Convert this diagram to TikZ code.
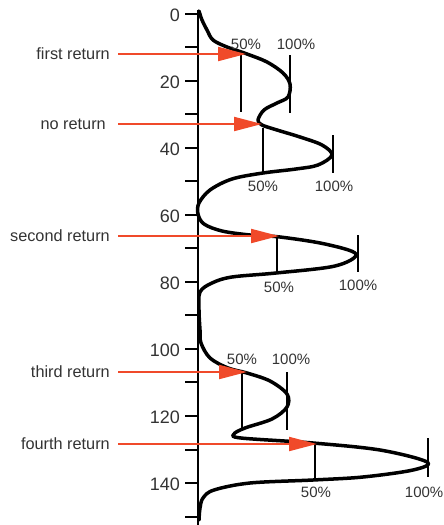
\documentclass[tikz,border=0pt]{standalone}
\usepackage{fontspec}
\setmainfont{Liberation Sans}
\usetikzlibrary{arrows.meta}
\definecolor{arrred}{HTML}{F04A2A}
\definecolor{txtgray}{HTML}{333333}
\tikzset{
  axisnum/.style={anchor=east, font=\fontsize{18}{20}\selectfont, text=txtgray, inner sep=0pt},
  retlabel/.style={anchor=east, font=\fontsize{16.3}{18}\selectfont, text=txtgray, inner sep=0pt},
  pct/.style={font=\fontsize{15}{17}\selectfont, text=txtgray, inner sep=0pt},
  retarrow/.style={draw=arrred, line width=2pt, -{Triangle[length=28pt,width=14pt]}},
  markline/.style={draw=black, line width=1.5pt},
  curve/.style={draw=black, line width=3.5pt, line cap=round, line join=round},
}
\begin{document}
\begin{tikzpicture}[x=1pt,y=-1pt]
\useasboundingbox (0,0) rectangle (444,525);
% axis
\draw[line width=2.5pt] (198,10) -- (198,525);
\foreach \v in {0,10,...,150}{
  \draw[line width=2pt] (185,{13.5+3.354*\v}) -- (198,{13.5+3.354*\v});
}
\foreach \v in {0,20,...,140}{
  \node[axisnum] (ax\v) at (180,{15+3.354*\v}) {\v};
}
% curve
\draw[curve] plot[smooth, tension=0.55] coordinates {
 (199,11) (202,20) (207,30) (213,40) (227,47) (247,54) (267,62) (283,73) (290,84)
 (288,97) (277,103) (264,110) (258,120) (262,125) (277,130) (300,137) (322,145) (332,155)
 (318,165) (296,169) (263,173) (232,179) (210,190) (199,203) (198,214) (204,224)
 (222,231) (250,235) (280,237) (325,244) (356,254) (335,266) (276,273) (232,277)
 (212,283) (200,292) (199,310) (200,330) (201,343) (210,358) (228,368) (247,373)
 (270,381) (287,394) (287,407) (272,419) (245,428) (234,434) (241,438) (313,443)
 (380,450) (427,462) (413,470) (363,477) (313,480) (250,483) (214,490) (203,498)
 (200,508) (199,520)
};
% 50% / 100% marks
\draw[markline] (241,55) -- (241,112);
\draw[markline] (290,55) -- (290,113);
\draw[markline] (263,128) -- (263,172);
\draw[markline] (333,135) -- (333,173);
\draw[markline] (277,237) -- (277,274);
\draw[markline] (358,235) -- (358,272);
\draw[markline] (242,372) -- (242,428);
\draw[markline] (287,372) -- (287,430);
\draw[markline] (315,443) -- (315,478);
\draw[markline] (428,438) -- (428,477);
% percent labels
\node[pct] (p1a) at (246,44) {50\%};
\node[pct] (p1b) at (296,44) {100\%};
\node[pct] (p2a) at (263,186) {50\%};
\node[pct] (p2b) at (334,186) {100\%};
\node[pct] (p3a) at (279,287) {50\%};
\node[pct] (p3b) at (358,285) {100\%};
\node[pct] (p4a) at (242,359) {50\%};
\node[pct] (p4b) at (291,359) {100\%};
\node[pct] (p5a) at (316,492) {50\%};
\node[pct, anchor=east] (p5b) at (443.5,492) {100\%};
% return labels and arrows
\node[retlabel] (r1) at (110,54) {first return};
\node[retlabel] (r2) at (106,124) {no return};
\node[retlabel] (r3) at (110,236) {second return};
\node[retlabel] (r4) at (110,372) {third return};
\node[retlabel] (r5) at (110,444) {fourth return};
\coordinate (t1) at (246,54);
\coordinate (t2) at (262,124);
\coordinate (t3) at (279,236);
\coordinate (t4) at (247,372);
\coordinate (t5) at (317,444);
\draw[retarrow] ([xshift=8pt]r1.east) -- (t1);
\draw[retarrow] ([xshift=12pt]r2.east) -- (t2);
\draw[retarrow] ([xshift=8pt]r3.east) -- (t3);
\draw[retarrow] ([xshift=8pt]r4.east) -- (t4);
\draw[retarrow] ([xshift=8pt]r5.east) -- (t5);
\end{tikzpicture}
\end{document}
